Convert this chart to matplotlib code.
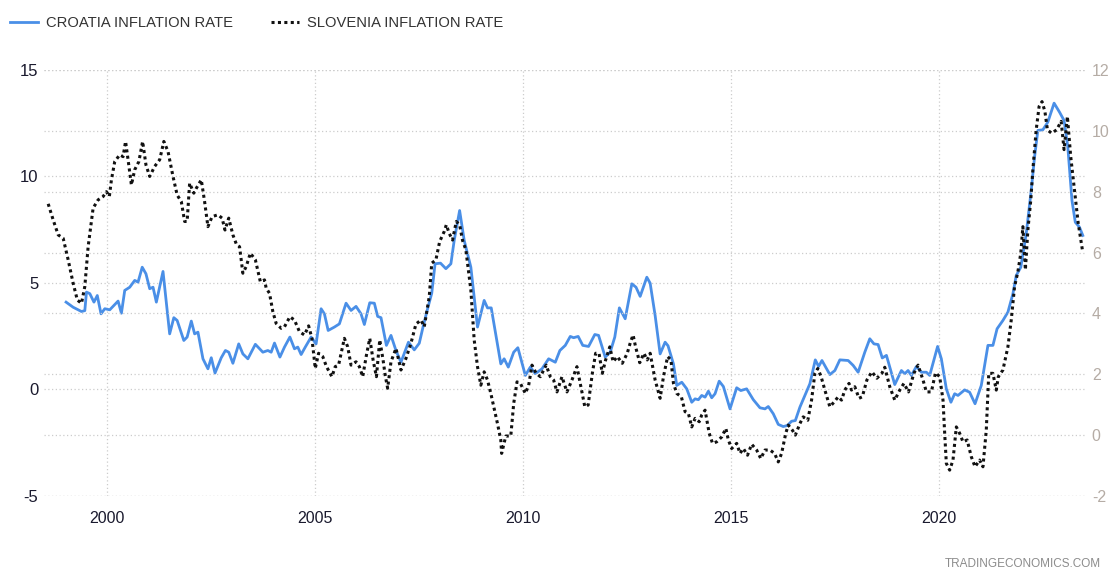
import numpy as np
import matplotlib.pyplot as plt

# Croatia inflation rate (left axis), decimal year / percent
cro_t = [1999.02, 1999.19, 1999.39, 1999.47, 1999.51, 1999.59, 1999.69, 1999.77, 1999.86, 1999.95,
         2000.07, 2000.27, 2000.35, 2000.43, 2000.55, 2000.67, 2000.75, 2000.85, 2000.94, 2001.03,
         2001.11, 2001.19, 2001.35, 2001.51, 2001.61, 2001.69, 2001.85, 2001.93, 2002.03, 2002.11,
         2002.19, 2002.31, 2002.43, 2002.51, 2002.60, 2002.75, 2002.85, 2002.93, 2003.03, 2003.17,
         2003.27, 2003.39, 2003.57, 2003.75, 2003.87, 2003.95, 2004.03, 2004.16, 2004.27, 2004.40,
         2004.51, 2004.59, 2004.67, 2004.77, 2004.91, 2005.03, 2005.15, 2005.23, 2005.32, 2005.47,
         2005.59, 2005.75, 2005.87, 2005.99, 2006.11, 2006.19, 2006.32, 2006.43, 2006.51, 2006.59,
         2006.72, 2006.83, 2006.95, 2007.07, 2007.19, 2007.25, 2007.39, 2007.51, 2007.60, 2007.71,
         2007.81, 2007.89, 2008.02, 2008.15, 2008.27, 2008.35, 2008.48, 2008.59, 2008.75, 2008.91,
         2009.07, 2009.15, 2009.24, 2009.47, 2009.55, 2009.65, 2009.78, 2009.88, 2010.06, 2010.18,
         2010.30, 2010.46, 2010.62, 2010.78, 2010.89, 2011.02, 2011.14, 2011.22, 2011.33, 2011.44,
         2011.58, 2011.73, 2011.82, 2011.98, 2012.10, 2012.21, 2012.32, 2012.46, 2012.62, 2012.72,
         2012.82, 2012.98, 2013.06, 2013.18, 2013.30, 2013.42, 2013.49, 2013.62, 2013.70, 2013.82,
         2013.94, 2014.06, 2014.14, 2014.22, 2014.30, 2014.38, 2014.46, 2014.54, 2014.62, 2014.72,
         2014.82, 2014.98, 2015.14, 2015.24, 2015.38, 2015.54, 2015.70, 2015.82, 2015.90, 2016.02,
         2016.14, 2016.26, 2016.36, 2016.46, 2016.55, 2016.66, 2016.78, 2016.90, 2017.03, 2017.11,
         2017.19, 2017.38, 2017.50, 2017.62, 2017.82, 2017.94, 2018.06, 2018.22, 2018.34, 2018.44,
         2018.54, 2018.64, 2018.74, 2018.94, 2019.10, 2019.18, 2019.26, 2019.34, 2019.46, 2019.58,
         2019.70, 2019.78, 2019.97, 2020.06, 2020.18, 2020.29, 2020.38, 2020.46, 2020.62, 2020.74,
         2020.87, 2021.02, 2021.18, 2021.30, 2021.40, 2021.54, 2021.66, 2021.78, 2021.86, 2021.97,
         2022.10, 2022.22, 2022.30, 2022.38, 2022.50, 2022.62, 2022.77, 2022.90, 2023.01, 2023.10,
         2023.20, 2023.28, 2023.38, 2023.46]
cro_v = [4.10, 3.86, 3.66, 3.70, 4.57, 4.50, 4.10, 4.41, 3.55, 3.79,
         3.74, 4.15, 3.58, 4.65, 4.80, 5.12, 5.04, 5.74, 5.43, 4.73,
         4.80, 4.10, 5.54, 2.61, 3.37, 3.24, 2.30, 2.46, 3.21, 2.61,
         2.69, 1.44, 0.97, 1.49, 0.77, 1.49, 1.83, 1.75, 1.23, 2.14,
         1.67, 1.44, 2.12, 1.75, 1.83, 1.75, 2.18, 1.52, 1.99, 2.46,
         1.91, 1.99, 1.64, 1.99, 2.46, 2.14, 3.79, 3.55, 2.77, 2.93,
         3.08, 4.05, 3.71, 3.90, 3.55, 3.05, 4.07, 4.05, 3.43, 3.37,
         2.07, 2.54, 1.83, 1.28, 1.91, 2.22, 1.86, 2.17, 2.93, 3.79,
         4.52, 5.90, 5.93, 5.67, 5.90, 7.00, 8.40, 7.00, 5.74, 2.93,
         4.18, 3.83, 3.83, 1.20, 1.44, 1.05, 1.75, 1.96, 0.66, 1.05,
         0.74, 0.97, 1.44, 1.28, 1.83, 2.07, 2.49, 2.43, 2.49, 2.07,
         2.02, 2.58, 2.54, 1.52, 1.75, 2.46, 3.83, 3.32, 4.96, 4.80,
         4.37, 5.27, 4.99, 3.47, 1.67, 2.22, 2.05, 1.20, 0.19, 0.34,
         0.03, -0.60, -0.44, -0.48, -0.28, -0.36, -0.08, -0.39, -0.20, 0.39,
         0.14, -0.91, 0.08, -0.05, 0.03, -0.48, -0.86, -0.91, -0.80, -1.14,
         -1.64, -1.74, -1.69, -1.49, -1.46, -0.83, -0.28, 0.27, 1.39, 1.08,
         1.36, 0.70, 0.89, 1.39, 1.36, 1.13, 0.81, 1.75, 2.38, 2.14,
         2.11, 1.48, 1.60, 0.23, 0.89, 0.74, 0.89, 0.66, 1.08, 0.81,
         0.81, 0.66, 2.02, 1.44, 0.03, -0.60, -0.20, -0.28, -0.02, -0.13,
         -0.67, 0.19, 2.07, 2.07, 2.85, 3.24, 3.63, 4.49, 5.35, 5.74,
         7.31, 9.34, 10.90, 12.16, 12.19, 12.55, 13.44, 13.02, 12.63, 11.38,
         8.87, 7.85, 7.62, 7.23]

# Slovenia inflation rate (right axis)
slo_t = [1998.59, 1998.71, 1998.83, 1998.95, 1999.07, 1999.19, 1999.29, 1999.39, 1999.47, 1999.55,
         1999.67, 1999.79, 1999.91, 1999.99, 2000.06, 2000.11, 2000.19, 2000.31, 2000.39, 2000.45,
         2000.51, 2000.59, 2000.67, 2000.77, 2000.86, 2000.94, 2001.03, 2001.15, 2001.27, 2001.37,
         2001.47, 2001.59, 2001.69, 2001.79, 2001.87, 2001.93, 2001.99, 2002.09, 2002.15, 2002.27,
         2002.35, 2002.43, 2002.53, 2002.67, 2002.77, 2002.84, 2002.93, 2003.03, 2003.12, 2003.19,
         2003.27, 2003.35, 2003.45, 2003.57, 2003.69, 2003.79, 2003.83, 2003.91, 2003.99, 2004.07,
         2004.19, 2004.27, 2004.40, 2004.51, 2004.63, 2004.75, 2004.85, 2004.93, 2005.01, 2005.09,
         2005.19, 2005.28, 2005.41, 2005.49, 2005.57, 2005.71, 2005.79, 2005.87, 2005.99, 2006.07,
         2006.15, 2006.24, 2006.32, 2006.40, 2006.48, 2006.56, 2006.64, 2006.69, 2006.75, 2006.83,
         2006.95, 2007.07, 2007.19, 2007.31, 2007.43, 2007.55, 2007.63, 2007.75, 2007.81, 2007.91,
         2008.00, 2008.11, 2008.16, 2008.23, 2008.31, 2008.40, 2008.48, 2008.55, 2008.63, 2008.75,
         2008.83, 2008.91, 2008.99, 2009.07, 2009.15, 2009.23, 2009.31, 2009.39, 2009.47, 2009.49,
         2009.59, 2009.71, 2009.78, 2009.86, 2009.94, 2010.06, 2010.14, 2010.22, 2010.32, 2010.42,
         2010.56, 2010.66, 2010.74, 2010.82, 2010.94, 2011.06, 2011.18, 2011.30, 2011.38, 2011.49,
         2011.57, 2011.67, 2011.75, 2011.83, 2011.91, 2011.99, 2012.09, 2012.17, 2012.27, 2012.39,
         2012.51, 2012.59, 2012.65, 2012.71, 2012.81, 2012.91, 2012.99, 2013.06, 2013.18, 2013.30,
         2013.38, 2013.48, 2013.56, 2013.62, 2013.70, 2013.81, 2013.90, 2013.98, 2014.06, 2014.14,
         2014.24, 2014.30, 2014.38, 2014.48, 2014.56, 2014.66, 2014.78, 2014.88, 2014.94, 2015.02,
         2015.14, 2015.22, 2015.30, 2015.40, 2015.50, 2015.62, 2015.72, 2015.82, 2015.94, 2016.05,
         2016.14, 2016.22, 2016.32, 2016.38, 2016.48, 2016.55, 2016.66, 2016.74, 2016.85, 2016.94,
         2017.02, 2017.09, 2017.17, 2017.26, 2017.38, 2017.49, 2017.58, 2017.66, 2017.74, 2017.84,
         2017.90, 2017.98, 2018.08, 2018.16, 2018.27, 2018.39, 2018.51, 2018.63, 2018.70, 2018.82,
         2018.94, 2019.06, 2019.16, 2019.27, 2019.40, 2019.50, 2019.62, 2019.70, 2019.82, 2019.92,
         2020.02, 2020.10, 2020.14, 2020.18, 2020.26, 2020.34, 2020.42, 2020.50, 2020.58, 2020.68,
         2020.78, 2020.87, 2020.98, 2021.06, 2021.14, 2021.20, 2021.30, 2021.38, 2021.43, 2021.54,
         2021.66, 2021.74, 2021.82, 2021.90, 2021.97, 2022.02, 2022.08, 2022.14, 2022.21, 2022.26,
         2022.34, 2022.41, 2022.48, 2022.55, 2022.61, 2022.71, 2022.83, 2022.94, 2023.01, 2023.09,
         2023.17, 2023.27, 2023.35, 2023.45]
slo_v = [7.60, 7.07, 6.58, 6.47, 5.76, 4.99, 4.44, 4.33, 4.88, 6.19,
         7.46, 7.73, 7.84, 8.00, 7.84, 8.39, 8.99, 9.21, 9.15, 9.65,
         9.05, 8.22, 8.72, 8.99, 9.65, 8.88, 8.50, 8.83, 9.05, 9.65,
         9.32, 8.50, 7.89, 7.67, 7.02, 7.02, 8.28, 7.95, 8.11, 8.39,
         7.67, 6.85, 7.18, 7.24, 7.13, 6.74, 7.13, 6.58, 6.25, 6.19,
         5.32, 5.54, 5.98, 5.76, 5.04, 5.10, 4.83, 4.66, 4.06, 3.67,
         3.51, 3.56, 3.89, 3.78, 3.40, 3.29, 3.59, 3.18, 2.19, 2.69,
         2.58, 2.25, 1.92, 2.25, 2.30, 3.18, 2.90, 2.30, 2.41, 2.25,
         1.92, 2.63, 3.18, 2.47, 1.92, 3.13, 2.47, 1.97, 1.54, 2.41,
         2.85, 2.14, 2.52, 3.02, 3.65, 3.78, 3.56, 4.55, 5.65, 5.76,
         6.36, 6.69, 6.91, 6.63, 6.41, 7.02, 6.91, 6.40, 6.09, 4.77,
         3.13, 2.25, 1.64, 2.08, 1.81, 1.37, 0.88, 0.38, -0.16, -0.60,
         -0.03, -0.03, 1.04, 1.75, 1.70, 1.37, 1.64, 2.30, 2.03, 1.92,
         2.30, 1.92, 1.81, 1.42, 1.92, 1.42, 1.81, 2.25, 1.70, 0.93,
         0.99, 2.03, 2.69, 2.69, 2.03, 2.47, 2.90, 2.41, 2.58, 2.36,
         2.69, 3.07, 3.29, 2.90, 2.38, 2.69, 2.47, 2.69, 1.81, 1.21,
         1.92, 2.58, 2.47, 1.70, 1.37, 1.26, 0.77, 0.71, 0.27, 0.55,
         0.44, 0.66, 0.82, 0.06, -0.27, -0.22, -0.06, 0.22, -0.16, -0.44,
         -0.27, -0.60, -0.44, -0.66, -0.30, -0.49, -0.77, -0.49, -0.49, -0.60,
         -0.88, -0.60, 0.06, 0.33, 0.16, 0.00, 0.38, 0.60, 0.49, 1.15,
         2.03, 2.19, 1.92, 1.48, 0.93, 1.10, 1.26, 1.15, 1.48, 1.70,
         1.48, 1.59, 1.21, 1.26, 1.81, 2.08, 1.87, 2.03, 2.23, 1.59,
         1.15, 1.48, 1.70, 1.42, 2.03, 2.30, 1.81, 1.42, 1.42, 2.05,
         1.92, 1.15, 0.06, -0.93, -1.15, -0.82, 0.27, 0.06, -0.22, -0.16,
         -0.71, -1.04, -0.82, -1.04, 0.16, 2.03, 2.03, 1.48, 1.92, 2.14,
         2.90, 3.78, 4.88, 5.37, 5.98, 6.85, 5.43, 6.74, 7.73, 8.72,
         10.03, 10.80, 10.96, 10.63, 10.03, 9.92, 10.03, 10.31, 9.38, 10.47,
         9.15, 7.95, 6.96, 6.09]

left_ticks = [-5, 0, 5, 10, 15]
right_ticks = [-2, 0, 2, 4, 6, 8, 10, 12]
year_ticks = [2000, 2005, 2010, 2015, 2020]

plt.rcParams['font.family'] = ['Liberation Sans', 'DejaVu Sans']
plt.rcParams['axes.unicode_minus'] = False

fig = plt.figure(figsize=(11.12, 5.75), dpi=100)
ax = fig.add_axes([0.0396, 0.1374, 0.936, 0.741])
ax2 = ax.twinx()

grid_kw = dict(color='#cccccc', linestyle=(0, (1, 2)), linewidth=0.9)

ax.set_xlim(1998.49, 2023.51)
ax.set_ylim(-5, 15)
ax2.set_ylim(-2, 12)
ax.set_xticks(year_ticks)
ax.set_xticklabels([str(y) for y in year_ticks])
ax.set_yticks(left_ticks)
ax2.set_yticks(right_ticks)

for y in left_ticks:
    ax.axhline(y, zorder=0, **grid_kw)
for y in right_ticks:
    ax2.axhline(y, zorder=0, **grid_kw)
for x in year_ticks:
    ax.axvline(x, zorder=0, **grid_kw)

l1, = ax.plot(cro_t, cro_v, color='#4a8fe7', linewidth=2.0, label='CROATIA INFLATION RATE',
              solid_joinstyle='round')
l2, = ax2.plot(slo_t, slo_v, color='#111111', linewidth=2.2, linestyle=(0, (1, 1.1)),
               label='SLOVENIA INFLATION RATE')

for a in (ax, ax2):
    for s in a.spines.values():
        s.set_visible(False)

ax.tick_params(axis='y', length=0, pad=4, labelsize=12, labelcolor='#1a1a2e')
ax.tick_params(axis='x', length=0, pad=11, labelsize=11.5, labelcolor='#1a1a2e')
ax2.tick_params(axis='y', length=0, pad=5, labelsize=11.5, labelcolor='#b5aca5')

fig.legend(handles=[l1, l2], loc='upper left', bbox_to_anchor=(-0.003, 0.995), ncol=2,
           frameon=False, fontsize=10.6, handlelength=1.9, handletextpad=0.55,
           columnspacing=2.6, labelcolor='#333333')

fig.text(0.99, 0.008, 'TRADINGECONOMICS.COM', ha='right', va='bottom',
         fontsize=8.5, color='#8c8c8c')

plt.savefig('out.png', dpi=100)
